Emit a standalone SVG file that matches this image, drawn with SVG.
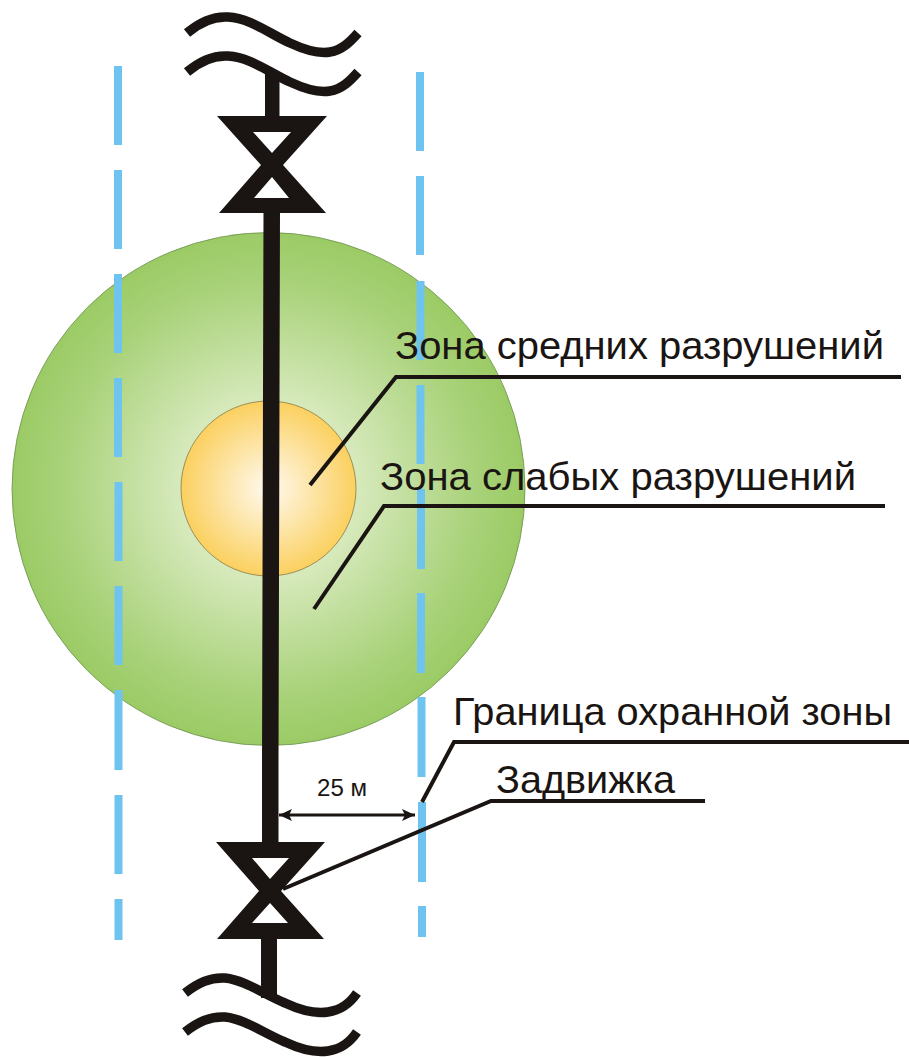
<svg xmlns="http://www.w3.org/2000/svg" width="909" height="1057" viewBox="0 0 909 1057">
<style>
text{font-family:"Liberation Sans",Arial,sans-serif;fill:#1a1512}
.lbl{font-size:39px}
.blue{stroke:#6fc3ef;stroke-width:8;fill:none}
.lead{stroke:#1a1512;stroke-width:4;fill:none;stroke-linejoin:miter}
.wave{stroke:#1a1512;stroke-width:9.5;fill:none}
.valve{fill:#1a1512;fill-rule:evenodd}
</style>
<defs>
<radialGradient id="g"><stop offset="0" stop-color="#ffffff"/><stop offset="0.35" stop-color="#d6e9bb"/><stop offset="0.8" stop-color="#a9d27a"/><stop offset="1" stop-color="#9bcb65"/></radialGradient>
<radialGradient id="o"><stop offset="0" stop-color="#fffaf0"/><stop offset="1" stop-color="#fbd05f"/></radialGradient>
<marker id="ah" markerUnits="userSpaceOnUse" markerWidth="14" markerHeight="12" refX="13" refY="6" orient="auto-start-reverse"><path d="M0,0 L13,6 L0,12 L3,6 Z" fill="#1a1512"/></marker>
</defs>
<g id="zone-weak"><circle cx="268.5" cy="489" r="256.5" fill="url(#g)" stroke="#6b8f4a" stroke-width="0.8"/></g>
<g id="zone-medium"><circle cx="268.5" cy="488.5" r="87.5" fill="url(#o)" stroke="#8a7a45" stroke-width="0.8"/></g>
<g id="boundary">
<path class="blue" d="M118,66V145M118,170V249M118,274V353M118,378V457M118.500,482V561M118.500,586V665M118.500,690V770M118.500,795V874M118.500,899V940"/>
<path class="blue" d="M420,72V151M420,176V255M420.500,281V360M420.500,385V464M421,489V569M421,593V673M421.500,697V777M422,802V882M422,906V937"/>
</g>
<g id="pipe">
<path d="M265,74H279.500V118H265Z" fill="#1a1512"/>
<path d="M263.500,211H280L278.500,760V844H262V760Z" fill="#1a1512"/>
<path d="M261,937H277V998H261Z" fill="#1a1512"/>
<path class="wave" d="M187,33C200,22 213,16 228,17C250,18 270,34 290,43C305,50 318,54 330,52C342,50 350,42 358,33"/>
<path class="wave" d="M187,72C200,61 213,55 228,56C250,57 270,73 290,82C305,89 318,93 330,91C342,89 350,81 358,72"/>
<path class="wave" d="M185,993C198,983 210,977 225,978C245,980 265,995 285,1003C300,1010 315,1014 328,1012C342,1010 350,1003 357,993"/>
<path class="wave" d="M185,1032C198,1022 210,1016 225,1017C245,1019 265,1034 285,1042C300,1049 315,1053 328,1051C342,1049 350,1042 357,1032"/>
</g>
<g id="valve-top"><path class="valve" d="M217,116H327L283,165L326,213H219L261,165ZM253,132L272,153L291,132ZM254,198H289L272,177Z"/></g>
<g id="valve-bottom"><path class="valve" d="M216,842H325L281,891L324,939H217L259,891ZM252,858L270,879L289,858ZM252,923H288L270,903Z"/></g>
<g id="connectors">
<path class="lead" d="M310,485L396,377H901"/>
<path class="lead" d="M314,609L384,506H885"/>
<path class="lead" d="M422,802L454,742H909"/>
<path class="lead" d="M283,889L491,801H705"/>
<line x1="279" y1="815" x2="415" y2="815" stroke="#1a1512" stroke-width="3" marker-start="url(#ah)" marker-end="url(#ah)"/>
</g>
<g id="labels">
<text class="lbl" x="395" y="359" textLength="489" lengthAdjust="spacingAndGlyphs">Зона средних разрушений</text>
<text class="lbl" x="380" y="490" textLength="476" lengthAdjust="spacingAndGlyphs">Зона слабых разрушений</text>
<text class="lbl" x="453" y="725" textLength="439" lengthAdjust="spacingAndGlyphs">Граница охранной зоны</text>
<text class="lbl" x="496" y="793" textLength="179" lengthAdjust="spacingAndGlyphs">Задвижка</text>
<text x="317" y="796" font-size="23" textLength="50" lengthAdjust="spacingAndGlyphs">25 м</text>
</g>
</svg>
